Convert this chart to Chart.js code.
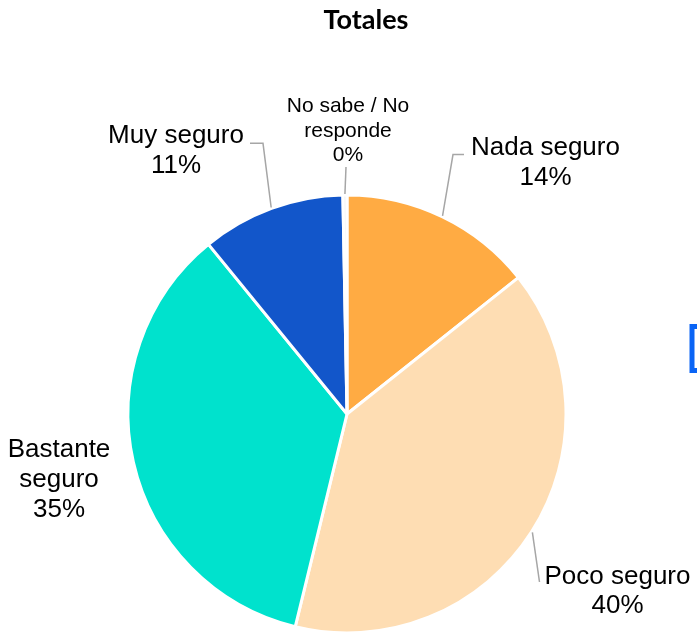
<!DOCTYPE html>
<html><head><meta charset="utf-8">
<script src="https://cdn.jsdelivr.net/npm/chart.js@4.4.1/dist/chart.umd.min.js"></script>
<style>html,body{margin:0;padding:0;background:#fff;overflow:hidden}#wrap{width:697px;height:635px;position:relative}</style>
</head><body><div id="wrap"><canvas id="c"></canvas></div>
<script>
// ---- data ----
const title = 'Totales';
const categories = ['Nada seguro', 'Poco seguro', 'Bastante seguro', 'Muy seguro', 'No sabe / No responde'];
const values = [14.3, 39.5, 35.3, 10.6, 0.3];
const labelLines = [['Nada seguro'], ['Poco seguro'], ['Bastante', 'seguro'], ['Muy seguro'], ['No sabe / No', 'responde']];
const colors = ['#FFAB43', '#FEDDB3', '#00E2CD', '#1256CA', '#F2F2F2'];

// ---- label layout (pixels) ----
const labelLayout = [
  {cx: 545.5, base: 154.5, lh: 30.5, fs: 26, leader: [[453, 154.5], [464, 154.5]]},
  {cx: 617.5, base: 583.5, lh: 29.5, fs: 26, leader: [[539.5, 582]]},
  {cx: 59,    base: 457,   lh: 30,   fs: 26, leader: null},
  {cx: 176,   base: 142.7, lh: 30.5, fs: 26, leader: [[263, 143.3], [250, 143.3]]},
  {cx: 348,   base: 112.3, lh: 24.4, fs: 21, leader: [[346, 167]]}
];

const labelPlugin = {
  id: 'labelPlugin',
  afterDraw(chart) {
    const ctx = chart.ctx;
    ctx.save();
    // title
    ctx.fillStyle = '#000';
    ctx.font = 'bold 27px Lato';
    ctx.textAlign = 'center';
    ctx.textBaseline = 'alphabetic';
    ctx.fillText(title, 366, 29);
    const meta = chart.getDatasetMeta(0);
    meta.data.forEach((arc, i) => {
      const L = labelLayout[i];
      const p = arc.getProps(['x', 'y', 'startAngle', 'endAngle', 'outerRadius'], true);
      const mid = (p.startAngle + p.endAngle) / 2;
      if (L.leader) {
        ctx.strokeStyle = '#A6A6A6';
        ctx.lineWidth = 1.5;
        ctx.beginPath();
        ctx.moveTo(p.x + Math.cos(mid) * (p.outerRadius + 1), p.y + Math.sin(mid) * (p.outerRadius + 1));
        L.leader.forEach(pt => ctx.lineTo(pt[0], pt[1]));
        ctx.stroke();
      }
      const lines = labelLines[i].concat([Math.round(values[i]) + '%']);
      ctx.fillStyle = '#000';
      ctx.font = L.fs + 'px "Liberation Sans", Arial, sans-serif';
      ctx.textAlign = 'center';
      lines.forEach((t, k) => ctx.fillText(t, L.cx, L.base + k * L.lh));
    });
    // partially visible frame at the right edge
    ctx.strokeStyle = '#0A64F5';
    ctx.lineWidth = 5;
    ctx.strokeRect(692, 326.5, 40, 44);
    ctx.restore();
  }
};

new Chart(document.getElementById('c'), {
  type: 'pie',
  data: {
    labels: categories,
    datasets: [{
      data: values,
      backgroundColor: colors,
      borderColor: '#FFFFFF',
      borderWidth: 3,
      radius: 219
    }]
  },
  options: {
    responsive: true,
    maintainAspectRatio: false,
    animation: false,
    layout: {padding: {left: 0, right: 3, top: 196, bottom: 3}},
    plugins: {legend: {display: false}, title: {display: false}, tooltip: {enabled: false}}
  },
  plugins: [labelPlugin]
});
</script>
</body></html>
